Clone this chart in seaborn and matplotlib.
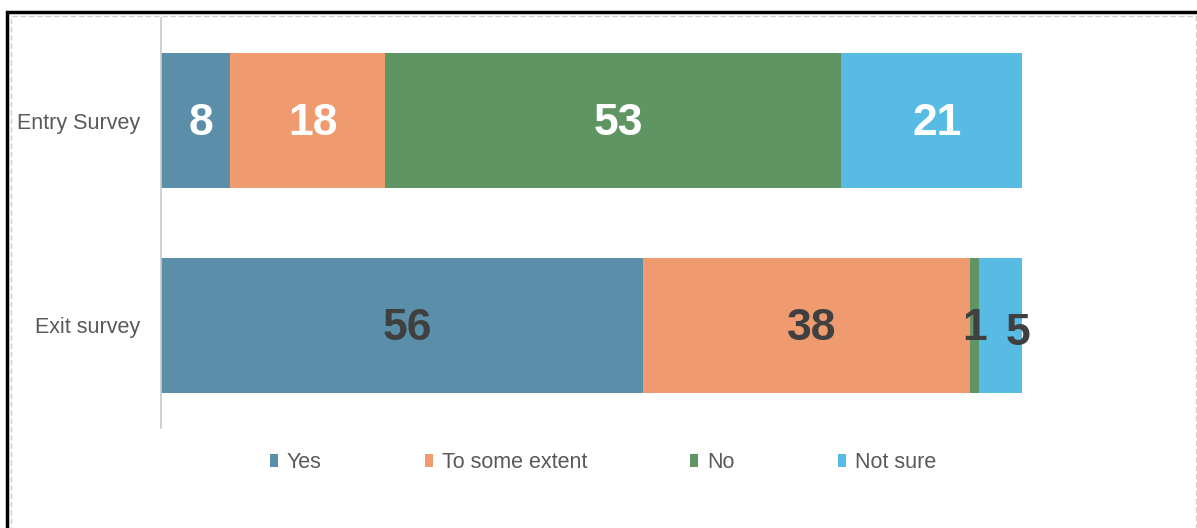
import matplotlib
matplotlib.use("Agg")
import matplotlib.pyplot as plt
import seaborn as sns
import pandas as pd
import numpy as np
from matplotlib.patches import Rectangle, Patch

categories = ["Entry Survey", "Exit survey"]
series_names = ["Yes", "To some extent", "No", "Not sure"]
yes = [8, 56]
some = [18, 38]
no = [53, 1]
notsure = [21, 5]
colors = ["#5B8FA9", "#EF9A6F", "#5E9563", "#58BBE3"]
label_colors = ["white", "#404040"]

sns.set_theme(style="white")
plt.rcParams["font.family"] = ["Liberation Sans", "DejaVu Sans"]

values = np.array([yes, some, no, notsure], dtype=float)
cum = np.cumsum(values, axis=0)

fig = plt.figure(figsize=(11.97, 5.28), dpi=100)
ax = fig.add_axes([161/1197, 1-428/528, (1022-161)/1197, (428-18)/528])

# stacked bars: draw cumulative totals from largest to smallest
for i in range(len(series_names)-1, -1, -1):
    df = pd.DataFrame({"cat": categories, "val": cum[i]})
    sns.barplot(data=df, y="cat", x="val", orient="h", color=colors[i],
                width=0.66, saturation=1, ax=ax, linewidth=0, edgecolor="none")

ax.set_xlim(0, 100)
ax.set_ylim(1.5, -0.5)
ax.set_xlabel("")
ax.set_ylabel("")
ax.set_xticks([])
for s in ["top", "right", "bottom"]:
    ax.spines[s].set_visible(False)
ax.spines["left"].set_color("#C8C8C8")
ax.spines["left"].set_linewidth(1.2)
ax.tick_params(axis="y", length=0, pad=15, labelsize=15.5, labelcolor="#595959")

# data labels
for j in range(len(categories)):
    for i in range(len(series_names)):
        v = values[i, j]
        center = cum[i, j] - v/2
        dx, dy = 0.6, 0.015
        if j == 1 and i == 3:
            dx, dy = 2.0, 0.04
        if j == 1 and i == 2:
            dx = 0.0
        ax.text(center + dx, j + dy, f"{int(v)}", ha="center", va="center",
                fontsize=32, fontweight="bold", color=label_colors[j])

handles = [Patch(facecolor=c, edgecolor="none", label=n) for c, n in zip(colors, series_names)]
leg = fig.legend(handles=handles, loc="center", bbox_to_anchor=(603/1197, 1-463/528),
                 ncol=4, frameon=False, fontsize=15.5, handlelength=0.37, handleheight=0.56,
                 handletextpad=0.42, columnspacing=4.8)
for t in leg.get_texts():
    t.set_color("#595959")

# outer frame
fig.patches.append(Rectangle((7/1197, -0.1), 1.2, 1-12/528+0.1, transform=fig.transFigure,
                             fill=False, edgecolor="black", linewidth=2.5))
fig.patches.append(Rectangle((10.5/1197, -0.1), (1196-10.5)/1197, 1-16/528+0.1, transform=fig.transFigure,
                             fill=False, edgecolor="#D0D0D0", linewidth=1, linestyle=(0, (4, 2))))

fig.savefig("out.png", dpi=100)
